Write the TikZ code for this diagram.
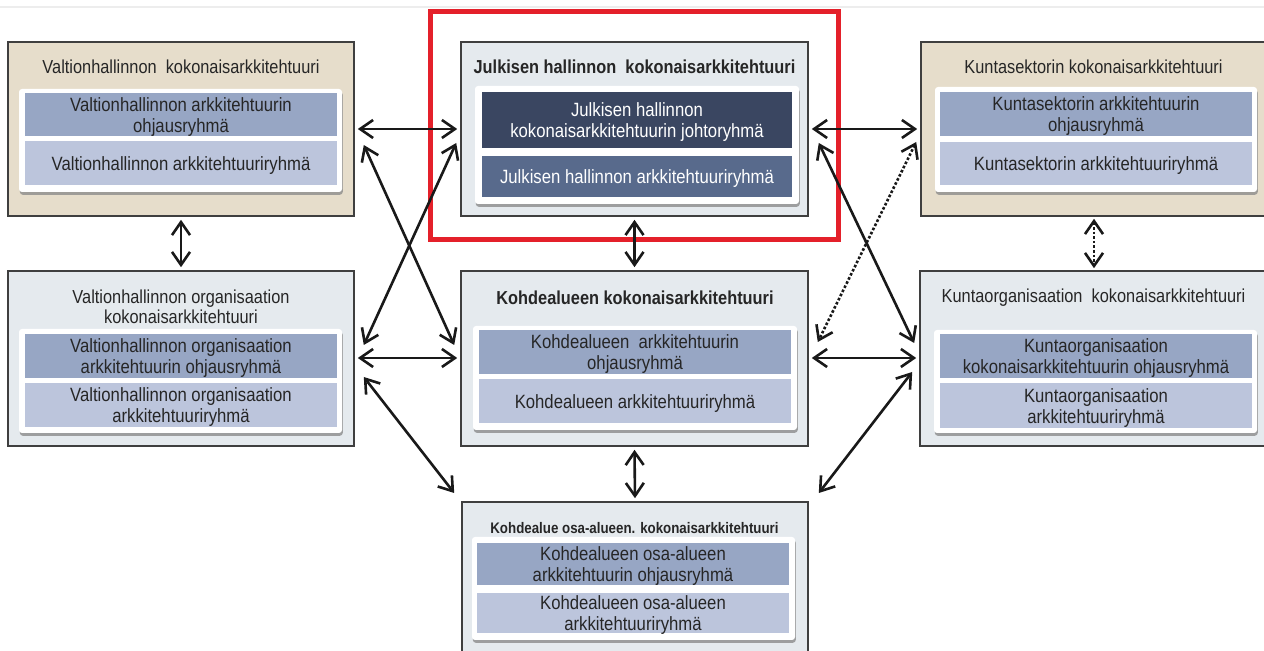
\documentclass[tikz,border=0pt]{standalone}
\usepackage{fontspec}
\setmainfont{Liberation Sans}[FakeStretch=0.87]
\usetikzlibrary{fit,arrows.meta,shadows}

\definecolor{beigeC}{HTML}{E6DDCB}
\definecolor{paleC}{HTML}{E5EAEE}
\definecolor{edgeC}{HTML}{3F3F3F}
\definecolor{blueA}{HTML}{97A6C4}
\definecolor{blueB}{HTML}{BCC5DC}
\definecolor{navyA}{HTML}{3A4661}
\definecolor{navyB}{HTML}{586A8C}
\definecolor{inkC}{HTML}{262626}
\definecolor{redC}{HTML}{E4202A}

\tikzset{
  every node/.style={inner sep=0pt, text=inkC},
  outerbox/.style={draw=edgeC, line width=0.8pt},
  beigebox/.style={outerbox, fill=beigeC},
  palebox/.style={outerbox, fill=paleC},
  panel/.style={fill=white, rounded corners=1.5pt,
    drop shadow={shadow xshift=0.4pt, shadow yshift=-1.4pt, fill=black!45, opacity=0.8}},
  grpA/.style={fill=blueA},
  grpB/.style={fill=blueB},
  grpNavyA/.style={fill=navyA},
  grpNavyB/.style={fill=navyB},
  boxlabel/.style={align=center, font=\boxfont, yshift=-1.2pt},
  whitelabel/.style={boxlabel, text=white},
  titletext/.style={align=center, font=\titlefont},
  boldtitle/.style={align=center, font=\titlefont\bfseries},
  link/.style={draw=black!90, line width=1.3pt,
    {Straight Barb[length=6.5pt,width=9pt,line width=1.3pt]}-{Straight Barb[length=6.5pt,width=9pt,line width=1.3pt]}},
  dotlink/.style={link, densely dotted},
}
\newcommand\boxfont{\fontsize{9.6}{10.6}\selectfont}
\newcommand\titlefont{\fontsize{9.4}{10}\selectfont}

\begin{document}
\begin{tikzpicture}[x=0.5pt, y=-0.5pt]
  \useasboundingbox (0,0) rectangle (1264,651);
  \clip (0,0) rectangle (1264,651);
  \fill[white] (0,0) rectangle (1264,651);
  \draw[black!7, line width=0.8pt] (0,7) -- (1264,7);

  % --- Valtionhallinnon kokonaisarkkitehtuuri
  \node[beigebox, fit={(8,42)(354,216)}] (vk) {};
  \node[titletext] (vkt) at (181,67) {Valtionhallinnon~ kokonaisarkkitehtuuri};
  \node[panel, fit={(19,89)(342,192)}] (vkp) {};
  \node[grpA, fit={(25,93)(337,136)}] (vk1) {};
  \node[boxlabel] (vk1t) at (vk1.center) {Valtionhallinnon arkkitehtuurin\\ohjausryhmä};
  \node[grpB, fit={(25,141)(337,185)}] (vk2) {};
  \node[boxlabel] (vk2t) at (vk2.center) {Valtionhallinnon arkkitehtuuriryhmä};

  % --- Julkisen hallinnon kokonaisarkkitehtuuri
  \node[palebox, fit={(461,42)(808,216)}] (jh) {};
  \node[boldtitle] (jht) at (634.5,67) {Julkisen hallinnon~ kokonaisarkkitehtuuri};
  \node[panel, fit={(475,86)(799,204)}] (jhp) {};
  \node[grpNavyA, fit={(482,92)(792,148)}] (jh1) {};
  \node[whitelabel] (jh1t) at (jh1.center) {Julkisen hallinnon\\kokonaisarkkitehtuurin johtoryhmä};
  \node[grpNavyB, fit={(482,156)(792,197)}] (jh2) {};
  \node[whitelabel] (jh2t) at (jh2.center) {Julkisen hallinnon arkkitehtuuriryhmä};

  % --- Kuntasektorin kokonaisarkkitehtuuri
  \node[beigebox, fit={(921,42)(1268,216)}] (ks) {};
  \node[titletext] (kst) at (1093.5,67) {Kuntasektorin kokonaisarkkitehtuuri};
  \node[panel, fit={(935,87)(1257,192)}] (ksp) {};
  \node[grpA, fit={(940,92)(1252,136)}] (ks1) {};
  \node[boxlabel] (ks1t) at (ks1.center) {Kuntasektorin arkkitehtuurin\\ohjausryhmä};
  \node[grpB, fit={(940,142)(1252,185)}] (ks2) {};
  \node[boxlabel] (ks2t) at (ks2.center) {Kuntasektorin arkkitehtuuriryhmä};

  % --- Valtionhallinnon organisaation kokonaisarkkitehtuuri
  \node[palebox, fit={(8,271)(354,446)}] (vo) {};
  \node[titletext] (vot) at (181,307) {Valtionhallinnon organisaation\\kokonaisarkkitehtuuri};
  \node[panel, fit={(19,329)(342,433)}] (vop) {};
  \node[grpA, fit={(25,334)(337,378)}] (vo1) {};
  \node[boxlabel] (vo1t) at (vo1.center) {Valtionhallinnon organisaation\\arkkitehtuurin ohjausryhmä};
  \node[grpB, fit={(25,383)(337,427)}] (vo2) {};
  \node[boxlabel] (vo2t) at (vo2.center) {Valtionhallinnon organisaation\\arkkitehtuuriryhmä};

  % --- Kohdealueen kokonaisarkkitehtuuri
  \node[palebox, fit={(461,271)(808,446)}] (ka) {};
  \node[boldtitle] (kat) at (635,298) {Kohdealueen kokonaisarkkitehtuuri};
  \node[panel, fit={(473,326)(797,430)}] (kap) {};
  \node[grpA, fit={(479,330)(791,374)}] (ka1) {};
  \node[boxlabel] (ka1t) at (ka1.center) {Kohdealueen~ arkkitehtuurin\\ohjausryhmä};
  \node[grpB, fit={(479,379)(791,423)}] (ka2) {};
  \node[boxlabel] (ka2t) at (ka2.center) {Kohdealueen arkkitehtuuriryhmä};

  % --- Kuntaorganisaation kokonaisarkkitehtuuri
  \node[palebox, fit={(920,271)(1268,446)}] (ko) {};
  \node[titletext] (kot) at (1093.5,298) {Kuntaorganisaation~ kokonaisarkkitehtuuri};
  \node[panel, fit={(934,330)(1257,433)}] (kop) {};
  \node[grpA, fit={(940,334)(1252,378)}] (ko1) {};
  \node[boxlabel] (ko1t) at (ko1.center) {Kuntaorganisaation\\kokonaisarkkitehtuurin ohjausryhmä};
  \node[grpB, fit={(940,383)(1252,428)}] (ko2) {};
  \node[boxlabel] (ko2t) at (ko2.center) {Kuntaorganisaation\\arkkitehtuuriryhmä};

  % --- Kohdealue osa-alueen kokonaisarkkitehtuuri
  \node[palebox, fit={(462,502)(808,662)}] (koa) {};
  \node[boldtitle, font=\fontsize{7.65}{9}\selectfont\bfseries] (koat) at (634.5,528) {Kohdealue osa-alueen. kokonaisarkkitehtuuri};
  \node[panel, fit={(472,537)(795,640)}] (koap) {};
  \node[grpA, fit={(477,543)(789,585)}] (koa1) {};
  \node[boxlabel] (koa1t) at (koa1.center) {Kohdealueen osa-alueen\\arkkitehtuurin ohjausryhmä};
  \node[grpB, fit={(477,593)(789,633)}] (koa2) {};
  \node[boxlabel] (koa2t) at (koa2.center) {Kohdealueen osa-alueen\\arkkitehtuuriryhmä};

  % --- highlight frame
  \node[draw=redC, line width=2.5pt, fit={(430,11.5)(838,239.5)}] (hl) {};

  % --- horizontal links
  \draw[link] ([xshift=1.5pt]vk.east |- 0,129) -- ([xshift=-1.5pt]jh.west |- 0,129);
  \draw[link] ([xshift=1.5pt]jh.east |- 0,129) -- ([xshift=-1.5pt]ks.west |- 0,129);
  \draw[link] ([xshift=1.5pt]vo.east |- 0,358) -- ([xshift=-1.5pt]ka.west |- 0,358);
  \draw[link] ([xshift=1.5pt]ka.east |- 0,358) -- ([xshift=-1.5pt]ko.west |- 0,358);

  % --- vertical links
  \draw[link] ([yshift=-1.5pt]vk.south) -- ([yshift=1.5pt]vo.north);
  \draw[link] ([yshift=-1.5pt]jh.south) -- ([yshift=1.5pt]ka.north);
  \draw[dotlink] ([yshift=-1pt]ks.south -| 1094,0) -- ([yshift=1pt]ko.north -| 1094,0);
  \draw[link] ([yshift=-1.5pt]ka.south) -- ([yshift=1.5pt]koa.north);

  % --- diagonal links
  \draw[link] ([xshift=4.5pt]vk.east |- 0,145) -- ([xshift=-3pt]ka.west |- 0,345);
  \draw[link] ([xshift=4.5pt]vo.east |- 0,345) -- ([xshift=-2pt]jh.west |- 0,143);
  \draw[link] ([xshift=4.5pt]vo.east |- 0,377) -- ([xshift=-3.5pt]koa.west |- 0,493);
  \draw[link] ([xshift=5pt]jh.east |- 0,143) -- ([xshift=-2.5pt]ko.west |- 0,343);
  \draw[dotlink] ([xshift=-2pt]ks.west |- 0,142) -- ([xshift=4.5pt]ka.east |- 0,342);
  \draw[link] ([xshift=-3.5pt]ko.west |- 0,372) -- ([xshift=5pt]koa.east |- 0,493);
\end{tikzpicture}
\end{document}
